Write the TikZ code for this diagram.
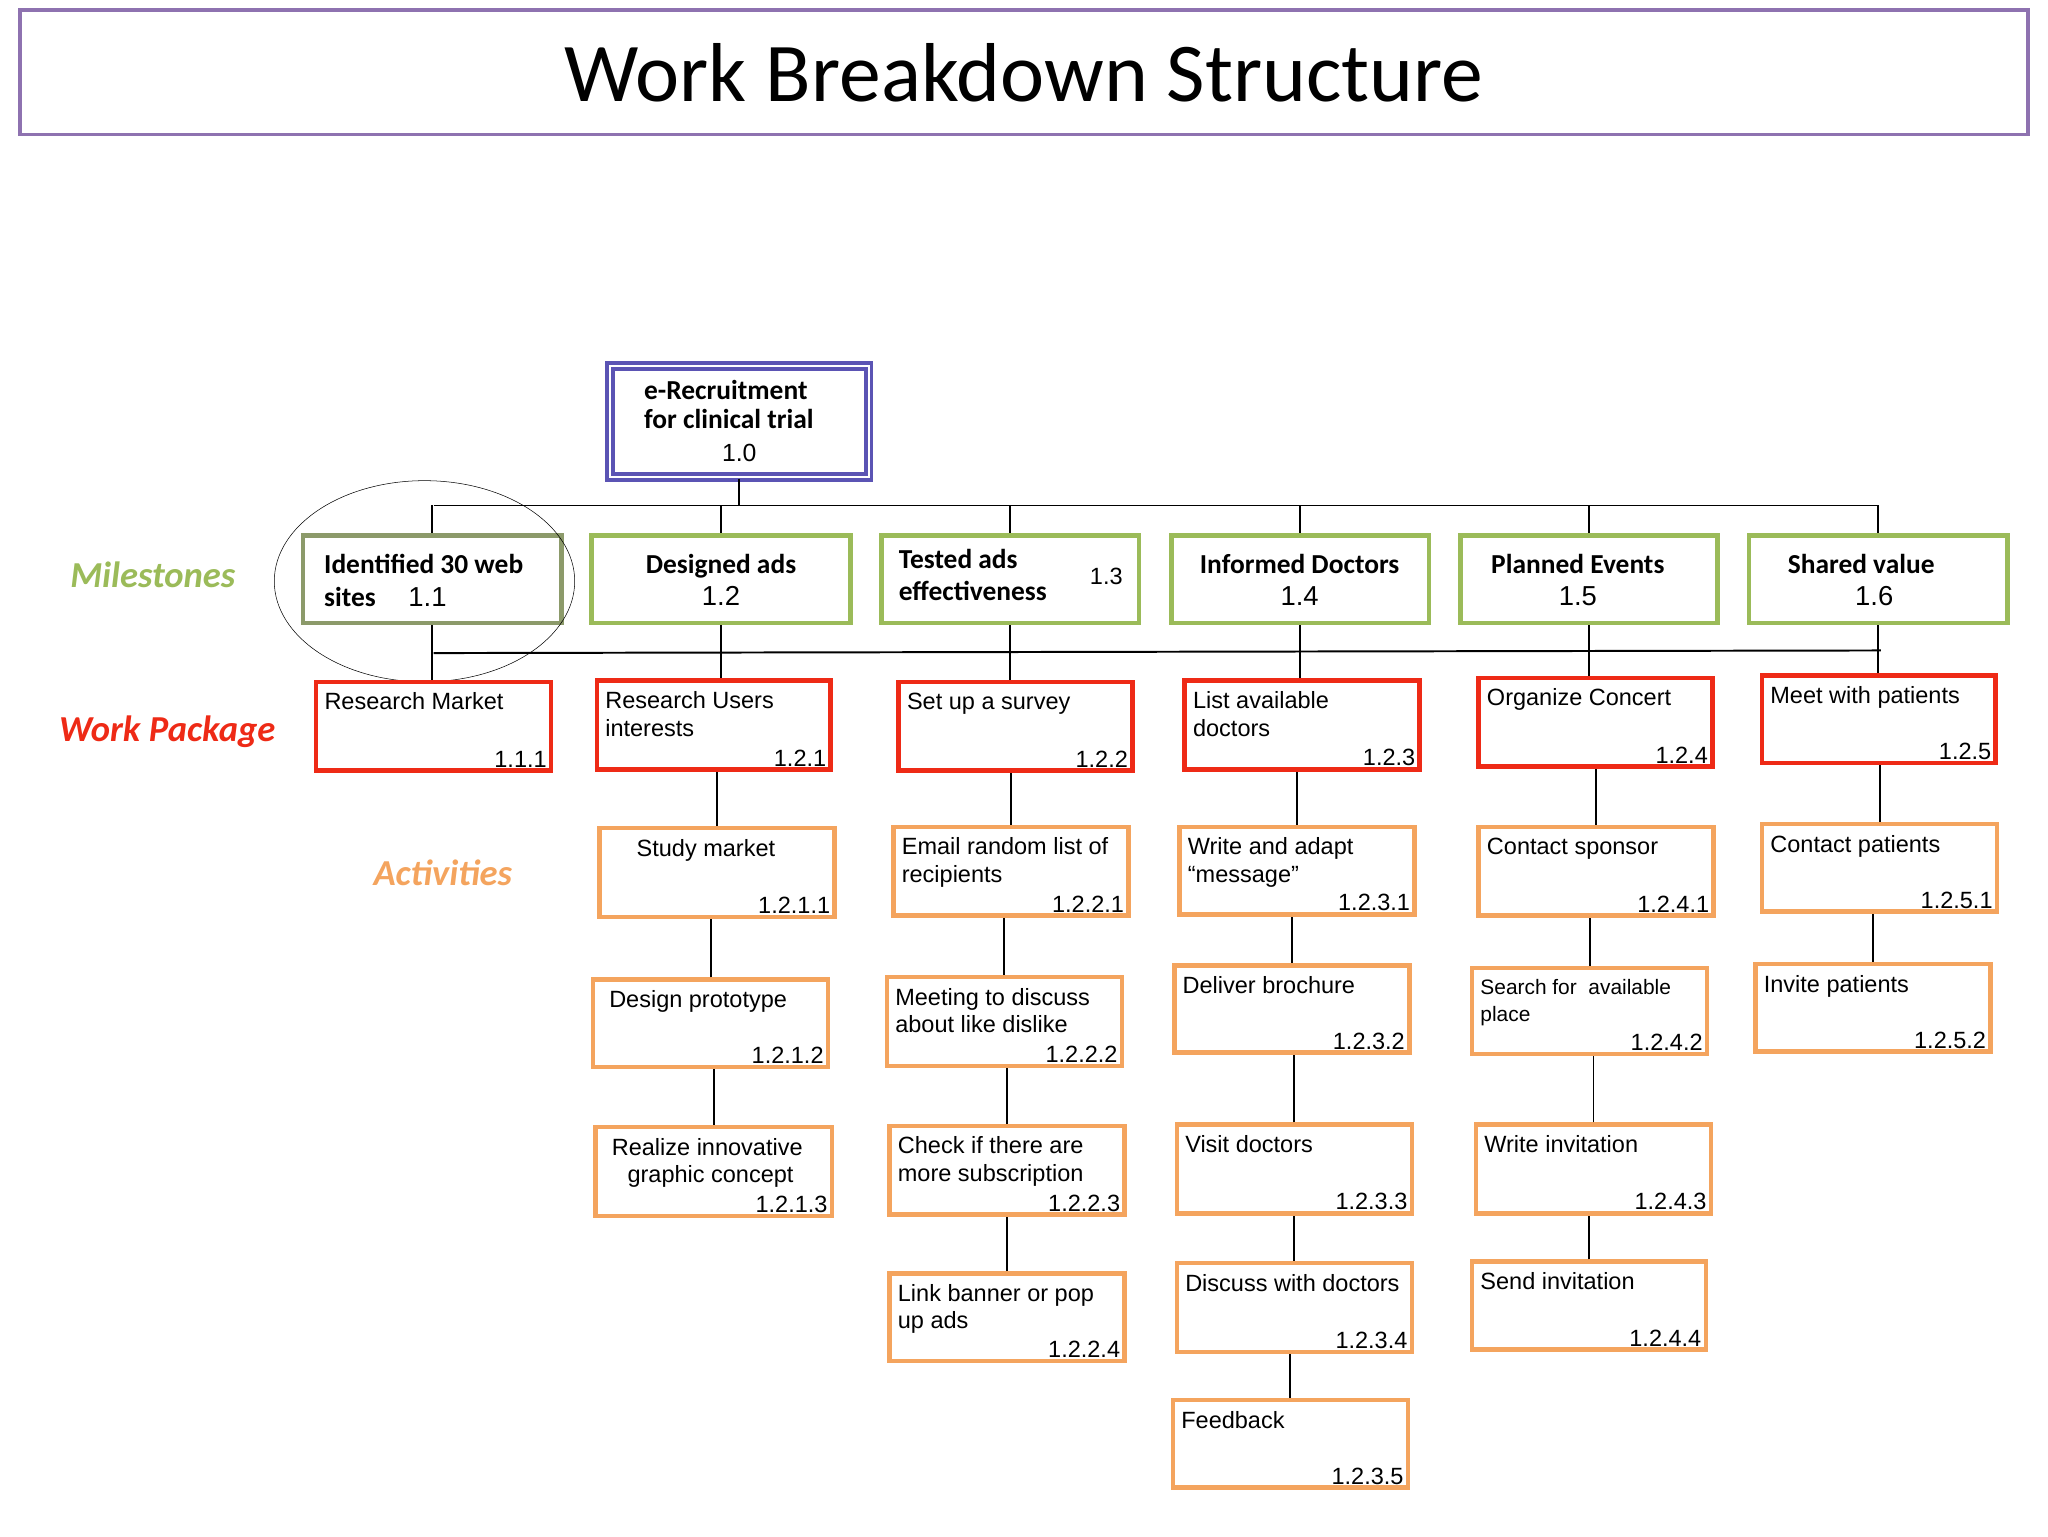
\documentclass[tikz,border=0pt]{standalone}
\usepackage{fontspec}
\setmainfont{Liberation Sans}
\newfontfamily\calfont{Carlito}
\usetikzlibrary{fit}
\definecolor{mgreen}{HTML}{9BBB59}
\definecolor{molive}{HTML}{8C9A6A}
\definecolor{wred}{HTML}{EE2A16}
\definecolor{aor}{HTML}{F4A45E}
\definecolor{tpur}{HTML}{8E72B0}
\definecolor{rblue}{HTML}{5B54B4}
\tikzset{
 box/.style={draw,fit={#1},inner sep=0pt},
 ms/.style={draw=mgreen,line width=3.5pt},
 wp/.style={draw=wred,line width=3.5pt},
 ac/.style={draw=aor,line width=3.5pt},
 lbl/.style={anchor=north west,inner sep=0pt,align=left,font=\fontsize{18}{21}\selectfont},
 num/.style={anchor=south east,inner sep=0pt,font=\fontsize{18}{21}\selectfont},
 conn/.style={line width=1.5pt}
}
\newcommand\wb[8]{%
 \node[#6,box={(#2,#3) (#4,#5)}] (#1) {};
 \node[lbl] (#1t) at ([xshift=8pt,yshift=-10pt]#1.north west) {#7};
 \node[num] (#1n) at ([xshift=-5pt,yshift=4pt]#1.south east) {#8};}
\begin{document}
\begin{tikzpicture}[x=1pt,y=-1pt]
\useasboundingbox[fill=white] (0,0) rectangle (1568,1176);
\node[draw=tpur,line width=3pt,box={(15,8) (1553,103)}] (title) {};
\node[font=\calfont\fontsize{64}{70}\selectfont] (titlet) at (title) {Work Breakdown Structure};
\node[draw=rblue,line width=3pt,double=white,double distance=1.5pt,box={(467,280) (665,365)}] (root) {};
\node[font=\calfont\bfseries\fontsize{21}{22}\selectfont,align=left,anchor=north west,inner sep=0pt] (roott) at (493,291) {e-Recruitment\\for clinical trial};
\node[font=\fontsize{19}{21}\selectfont,inner sep=0pt] (rootn) at (566,347) {1.0};
% milestones
\node[draw=molive,line width=3.5pt,box={(232,410) (430,477)}] (m1) {};
\node[font=\calfont\bfseries\fontsize{21}{25}\selectfont,align=left,anchor=north west,inner sep=0pt] (m1t) at (248,424) {Identified 30 web\\sites\hspace{25pt}{\mdseries\rmfamily 1.1}};
\node[ms,box={(453,410) (651,477)}] (m2) {};
\node[font=\calfont\bfseries\fontsize{21}{25}\selectfont,align=center,inner sep=0pt] (m2t) at (552,444) {Designed ads\\{\mdseries\rmfamily 1.2}};
\node[ms,box={(675,410) (872,477)}] (m3) {};
\node[font=\calfont\bfseries\fontsize{21}{25}\selectfont,align=left,anchor=north west,inner sep=0pt] (m3t) at (688,420) {Tested ads\\effectiveness};
\node[font=\fontsize{18}{21}\selectfont,inner sep=0pt] (m3n) at (847,441) {1.3};
\node[ms,box={(897,410) (1094,477)}] (m4) {};
\node[font=\calfont\bfseries\fontsize{21}{25}\selectfont,align=center,inner sep=0pt] (m4t) at (995,444) {Informed Doctors\\{\mdseries\rmfamily 1.4}};
\node[ms,box={(1118,410) (1315,477)}] (m5) {};
\node[font=\calfont\bfseries\fontsize{21}{25}\selectfont,align=center,inner sep=0pt] (m5t) at (1208,444) {Planned Events\\{\mdseries\rmfamily 1.5}};
\node[ms,box={(1339,410) (1537,477)}] (m6) {};
\node[font=\calfont\bfseries\fontsize{21}{25}\selectfont,align=center,inner sep=0pt] (m6t) at (1425,444) {Shared value\\{\mdseries\rmfamily\hspace{20pt}1.6}};
\draw (325,445) ellipse [x radius=115, y radius=77];
% labels
\node[text=mgreen,font=\calfont\bfseries\itshape\fontsize{28}{30}\selectfont] (lm) at (117,440) {Milestones};
\node[text=wred,font=\calfont\bfseries\itshape\fontsize{28}{30}\selectfont] (lw) at (128,560) {Work Package};
\node[text=aor,font=\calfont\bfseries\itshape\fontsize{28}{30}\selectfont] (la) at (339,668) {Activities};
% work packages
\wb{w1}{242}{522}{422}{590}{wp}{Research Market}{1.1.1}
\wb{w2}{457}{521}{636}{589}{wp}{Research Users\\interests}{1.2.1}
\wb{w3}{688}{522}{867}{590}{wp}{Set up a survey}{1.2.2}
\wb{w4}{907}{521}{1087}{589}{wp}{List available\\doctors}{1.2.3}
\wb{w5}{1132}{519}{1311}{587}{wp}{Organize Concert}{1.2.4}
\wb{w6}{1349}{517}{1528}{584}{wp}{Meet with patients}{1.2.5}
% activities
\wb{a21}{459}{634}{639}{702}{ac}{\hspace{22pt}Study market}{1.2.1.1}
\wb{a22}{454}{750}{634}{817}{ac}{\hspace{6pt}Design prototype}{1.2.1.2}
\wb{a23}{456}{863}{637}{931}{ac}{\hspace{6pt}Realize innovative\\\hspace{18pt}graphic concept}{1.2.1.3}
\wb{a31}{684}{633}{864}{701}{ac}{Email random list of\\recipients}{1.2.2.1}
\wb{a32}{679}{748}{859}{816}{ac}{Meeting to discuss\\about like dislike}{1.2.2.2}
\wb{a33}{681}{862}{861}{930}{ac}{Check if there are\\more subscription}{1.2.2.3}
\wb{a34}{681}{975}{861}{1042}{ac}{Link banner or pop\\up ads}{1.2.2.4}
\wb{a41}{903}{633}{1083}{700}{ac}{Write and adapt\\“message”}{1.2.3.1}
\wb{a42}{899}{739}{1079}{806}{ac}{Deliver brochure}{1.2.3.2}
\wb{a43}{901}{861}{1081}{929}{ac}{Visit doctors}{1.2.3.3}
\wb{a44}{901}{967}{1081}{1035}{ac}{Discuss with doctors}{1.2.3.4}
\wb{a45}{898}{1072}{1078}{1139}{ac}{Feedback}{1.2.3.5}
\wb{a51}{1132}{633}{1312}{701}{ac}{Contact sponsor}{1.2.4.1}
\wb{a52}{1127}{741}{1307}{807}{ac}{{\fontsize{16}{18}\selectfont Search for\ \ available}\\{\fontsize{16}{18}\selectfont place}}{1.2.4.2}
\wb{a53}{1130}{861}{1310}{929}{ac}{Write invitation}{1.2.4.3}
\wb{a54}{1127}{966}{1306}{1033}{ac}{Send invitation}{1.2.4.4}
\wb{a61}{1349}{631}{1529}{698}{ac}{Contact patients}{1.2.5.1}
\wb{a62}{1344}{738}{1524}{805}{ac}{Invite patients}{1.2.5.2}
% connectors
\coordinate (busL) at (332,387); \coordinate (busR) at (1438,387);
\coordinate (bus2L) at (332,500); \coordinate (bus2R) at (1440,498);
\draw[conn] (busL) -- (busR);
\draw[conn] (bus2L) -- (bus2R);
\draw[conn] (root.south) -- (root.south |- busL);
\foreach \m/\w in {m1/w1,m2/w2,m3/w3,m4/w4,m5/w5,m6/w6}{
 \draw[conn] (\m.north |- busL) -- (\m.north);
 \draw[conn] (\m.south) -- (\m.south |- \w.north);}
\foreach \a/\b in {w2/a21,a21/a22,a22/a23,w3/a31,a31/a32,a32/a33,a33/a34,w4/a41,a41/a42,a42/a43,a43/a44,a44/a45,w5/a51,a51/a52,a52/a53,a53/a54,w6/a61,a61/a62}{
 \draw[conn] (\b.north) -- (\b.north |- \a.south);}
\end{tikzpicture}
\end{document}
